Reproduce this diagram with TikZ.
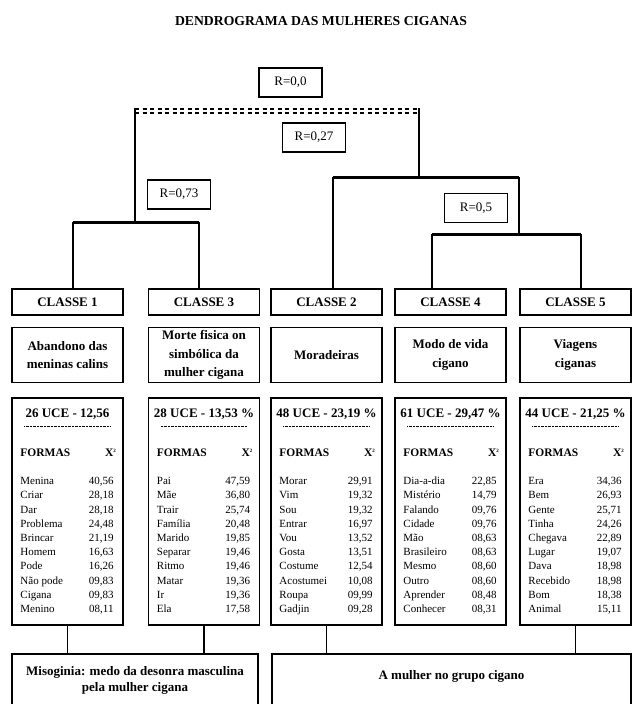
\documentclass[tikz,border=0pt]{standalone}
\usepackage{fontspec}
\setmainfont{Liberation Serif}
\usetikzlibrary{positioning}

\tikzset{
  caixa/.style={draw, line width=1.5pt, inner sep=0pt, minimum width=111pt},
  rlabel/.style={draw, line width=1.5pt, inner sep=0pt, minimum width=63pt, minimum height=29pt, font=\fontsize{13}{15}\selectfont},
  classe/.style={caixa, minimum height=26pt, font=\bfseries\fontsize{13}{15}\selectfont},
  tema/.style={caixa, minimum height=55pt, align=center, font=\bfseries\fontsize{13}{18.5}\selectfont},
  tabela/.style={caixa, minimum height=227pt},
  sintese/.style={draw, line width=1.5pt, inner sep=0pt, minimum height=56pt, anchor=north, align=center, font=\bfseries\fontsize{13}{16}\selectfont},
  uce/.style={anchor=base, inner sep=0pt, font=\bfseries\fontsize{13}{15}\selectfont},
  cabeca/.style={inner sep=0pt, font=\bfseries\fontsize{11.5}{13}\selectfont},
  forma/.style={anchor=base west, inner sep=0pt, font=\fontsize{11}{13}\selectfont},
  qui/.style={anchor=base east, inner sep=0pt, font=\fontsize{11}{13}\selectfont},
  ramo/.style={line width=1.5pt},
  juncao/.style={line width=3pt},
  pontos/.style={line width=0.5pt, dash pattern=on 0.7pt off 0.7pt},
  corte/.style={line width=1.4pt, dash pattern=on 4pt off 3.5pt},
}

% conteudo de uma tabela: nome do no, cabecalho, lista forma/qui2
\newcommand{\tabelaformas}[3]{%
  \node[uce] (#1h) at ([yshift=-20.5pt]#1.north) {#2};
  \draw[pontos] ([xshift=13pt,yshift=-29pt]#1.north west) -- ([xshift=-14pt,yshift=-29pt]#1.north east);
  \node[cabeca, anchor=base west] (#1f) at ([xshift=9pt,yshift=-59.5pt]#1.north west) {FORMAS};
  \node[cabeca, anchor=base] (#1x) at ([xshift=-13pt,yshift=-59.5pt]#1.north east) {X\textsuperscript{\fontsize{5}{5}\selectfont 2}};
  \foreach \w/\v [count=\i] in {#3}{
    \node[forma] (#1w\i) at ([xshift=9pt,yshift={-87.5-14.2*(\i-1)}]#1.north west) {\w};
    \node[qui] (#1v\i) at ([xshift=-10pt,yshift={-87.5-14.2*(\i-1)}]#1.north east) {\v};
  }
}

\begin{document}
\begin{tikzpicture}[x=1pt, y=-1pt]
	\clip (0,0) rectangle (636,704);

	\node[font=\bfseries\fontsize{13.7}{16}\selectfont] (titulo) at (321,21) {DENDROGRAMA DAS MULHERES CIGANAS};

	% niveis
	\node[rlabel] (r00) at (290.5,82.5) {R=0,0};
	\node[rlabel] (r027) at (314,137.5) {R=0,27};
	\node[rlabel] (r073) at (179,194.5) {R=0,73};
	\node[rlabel] (r05) at (476,208) {R=0,5};

	% classes
	\node[classe] (c1) at (67.5,302) {CLASSE 1};
	\node[classe] (c3) at (204,302) {CLASSE 3};
	\node[classe] (c2) at (326.5,302) {CLASSE 2};
	\node[classe] (c4) at (450.5,302) {CLASSE 4};
	\node[classe] (c5) at (575.5,302) {CLASSE 5};

	\node[tema, below=11pt of c1] (th1) {Abandono das\\meninas calins};
	\node[tema, below=11pt of c3] (th3) {Morte fisica on\\simbólica da\\mulher cigana};
	\node[tema, below=11pt of c2] (th2) {Moradeiras};
	\node[tema, below=11pt of c4] (th4) {Modo de vida\\cigano};
	\node[tema, below=11pt of c5] (th5) {Viagens\\ciganas};

	\node[tabela, below=14pt of th1] (t1) {};
	\node[tabela, below=14pt of th3] (t3) {};
	\node[tabela, below=14pt of th2] (t2) {};
	\node[tabela, below=14pt of th4] (t4) {};
	\node[tabela, below=14pt of th5] (t5) {};

	\tabelaformas{t1}{26 UCE - 12,56}{Menina/{40,56}, Criar/{28,18}, Dar/{28,18}, Problema/{24,48}, Brincar/{21,19}, Homem/{16,63}, Pode/{16,26}, Não pode/{09,83}, Cigana/{09,83}, Menino/{08,11}}
	\tabelaformas{t3}{28 UCE - 13,53 \%}{Pai/{47,59}, Mãe/{36,80}, Trair/{25,74}, Família/{20,48}, Marido/{19,85}, Separar/{19,46}, Ritmo/{19,46}, Matar/{19,36}, Ir/{19,36}, Ela/{17,58}}
	\tabelaformas{t2}{48 UCE - 23,19 \%}{Morar/{29,91}, Vim/{19,32}, Sou/{19,32}, Entrar/{16,97}, Vou/{13,52}, Gosta/{13,51}, Costume/{12,54}, Acostumei/{10,08}, Roupa/{09,99}, Gadjin/{09,28}}
	\tabelaformas{t4}{61 UCE - 29,47 \%}{Dia-a-dia/{22,85}, Mistério/{14,79}, Falando/{09,76}, Cidade/{09,76}, Mão/{08,63}, Brasileiro/{08,63}, Mesmo/{08,60}, Outro/{08,60}, Aprender/{08,48}, Conhecer/{08,31}}
	\tabelaformas{t5}{44 UCE - 21,25 \%}{Era/{34,36}, Bem/{26,93}, Gente/{25,71}, Tinha/{24,26}, Chegava/{22,89}, Lugar/{19,07}, Dava/{18,98}, Recebido/{18,98}, Bom/{18,38}, Animal/{15,11}}

	% eixos
	\node[sintese, minimum width=246pt, text depth=5pt] (m1) at (135,653) {Misoginia: medo da desonra masculina\\pela mulher cigana};
	\node[sintese, minimum width=359pt, text depth=13pt] (m2) at (451.5,653) {A mulher no grupo cigano};

	% arvore
	\coordinate (k0l) at (135,111);
	\coordinate (k0r) at (419,111);
	\coordinate (k13) at (135,222);
	\coordinate (k245) at (419,177);
	\coordinate (k45) at (519,234);
	\coordinate (p1) at ([xshift=5.5pt]c1.north);
	\coordinate (p3) at ([xshift=-5pt]c3.north);
	\coordinate (p2) at ([xshift=6.5pt]c2.north);
	\coordinate (p4) at ([xshift=-18.5pt]c4.north);
	\coordinate (p5) at ([xshift=5.5pt]c5.north);

	\draw[corte] ([yshift=2pt]k0l) -- ([yshift=2pt]k0r);
	\draw[corte] ([yshift=-2pt]k0l) -- ([yshift=-2pt]k0r);
	\draw[ramo] ([yshift=2.7pt]k0l) -- (k13);
	\draw[ramo] ([yshift=2.7pt]k0r) -- (k245);

	\draw[juncao] (p1 |- k13) -- (p3 |- k13);
	\draw[ramo] (p1 |- k13) -- (p1);
	\draw[ramo] (p3 |- k13) -- (p3);

	\draw[juncao] (p2 |- k245) -- (k45 |- k245);
	\draw[ramo] (p2 |- k245) -- (p2);
	\draw[ramo] (k45 |- k245) -- (k45);

	\draw[juncao] (p4 |- k45) -- (p5 |- k45);
	\draw[ramo] (p4 |- k45) -- (p4);
	\draw[ramo] (p5 |- k45) -- (p5);

	\draw[ramo] (t1.south) -- (t1.south |- m1.north);
	\draw[ramo] (t3.south) -- (t3.south |- m1.north);
	\draw[ramo] (t2.south) -- (t2.south |- m2.north);
	\draw[ramo] (t5.south) -- (t5.south |- m2.north);
\end{tikzpicture}
\end{document}
